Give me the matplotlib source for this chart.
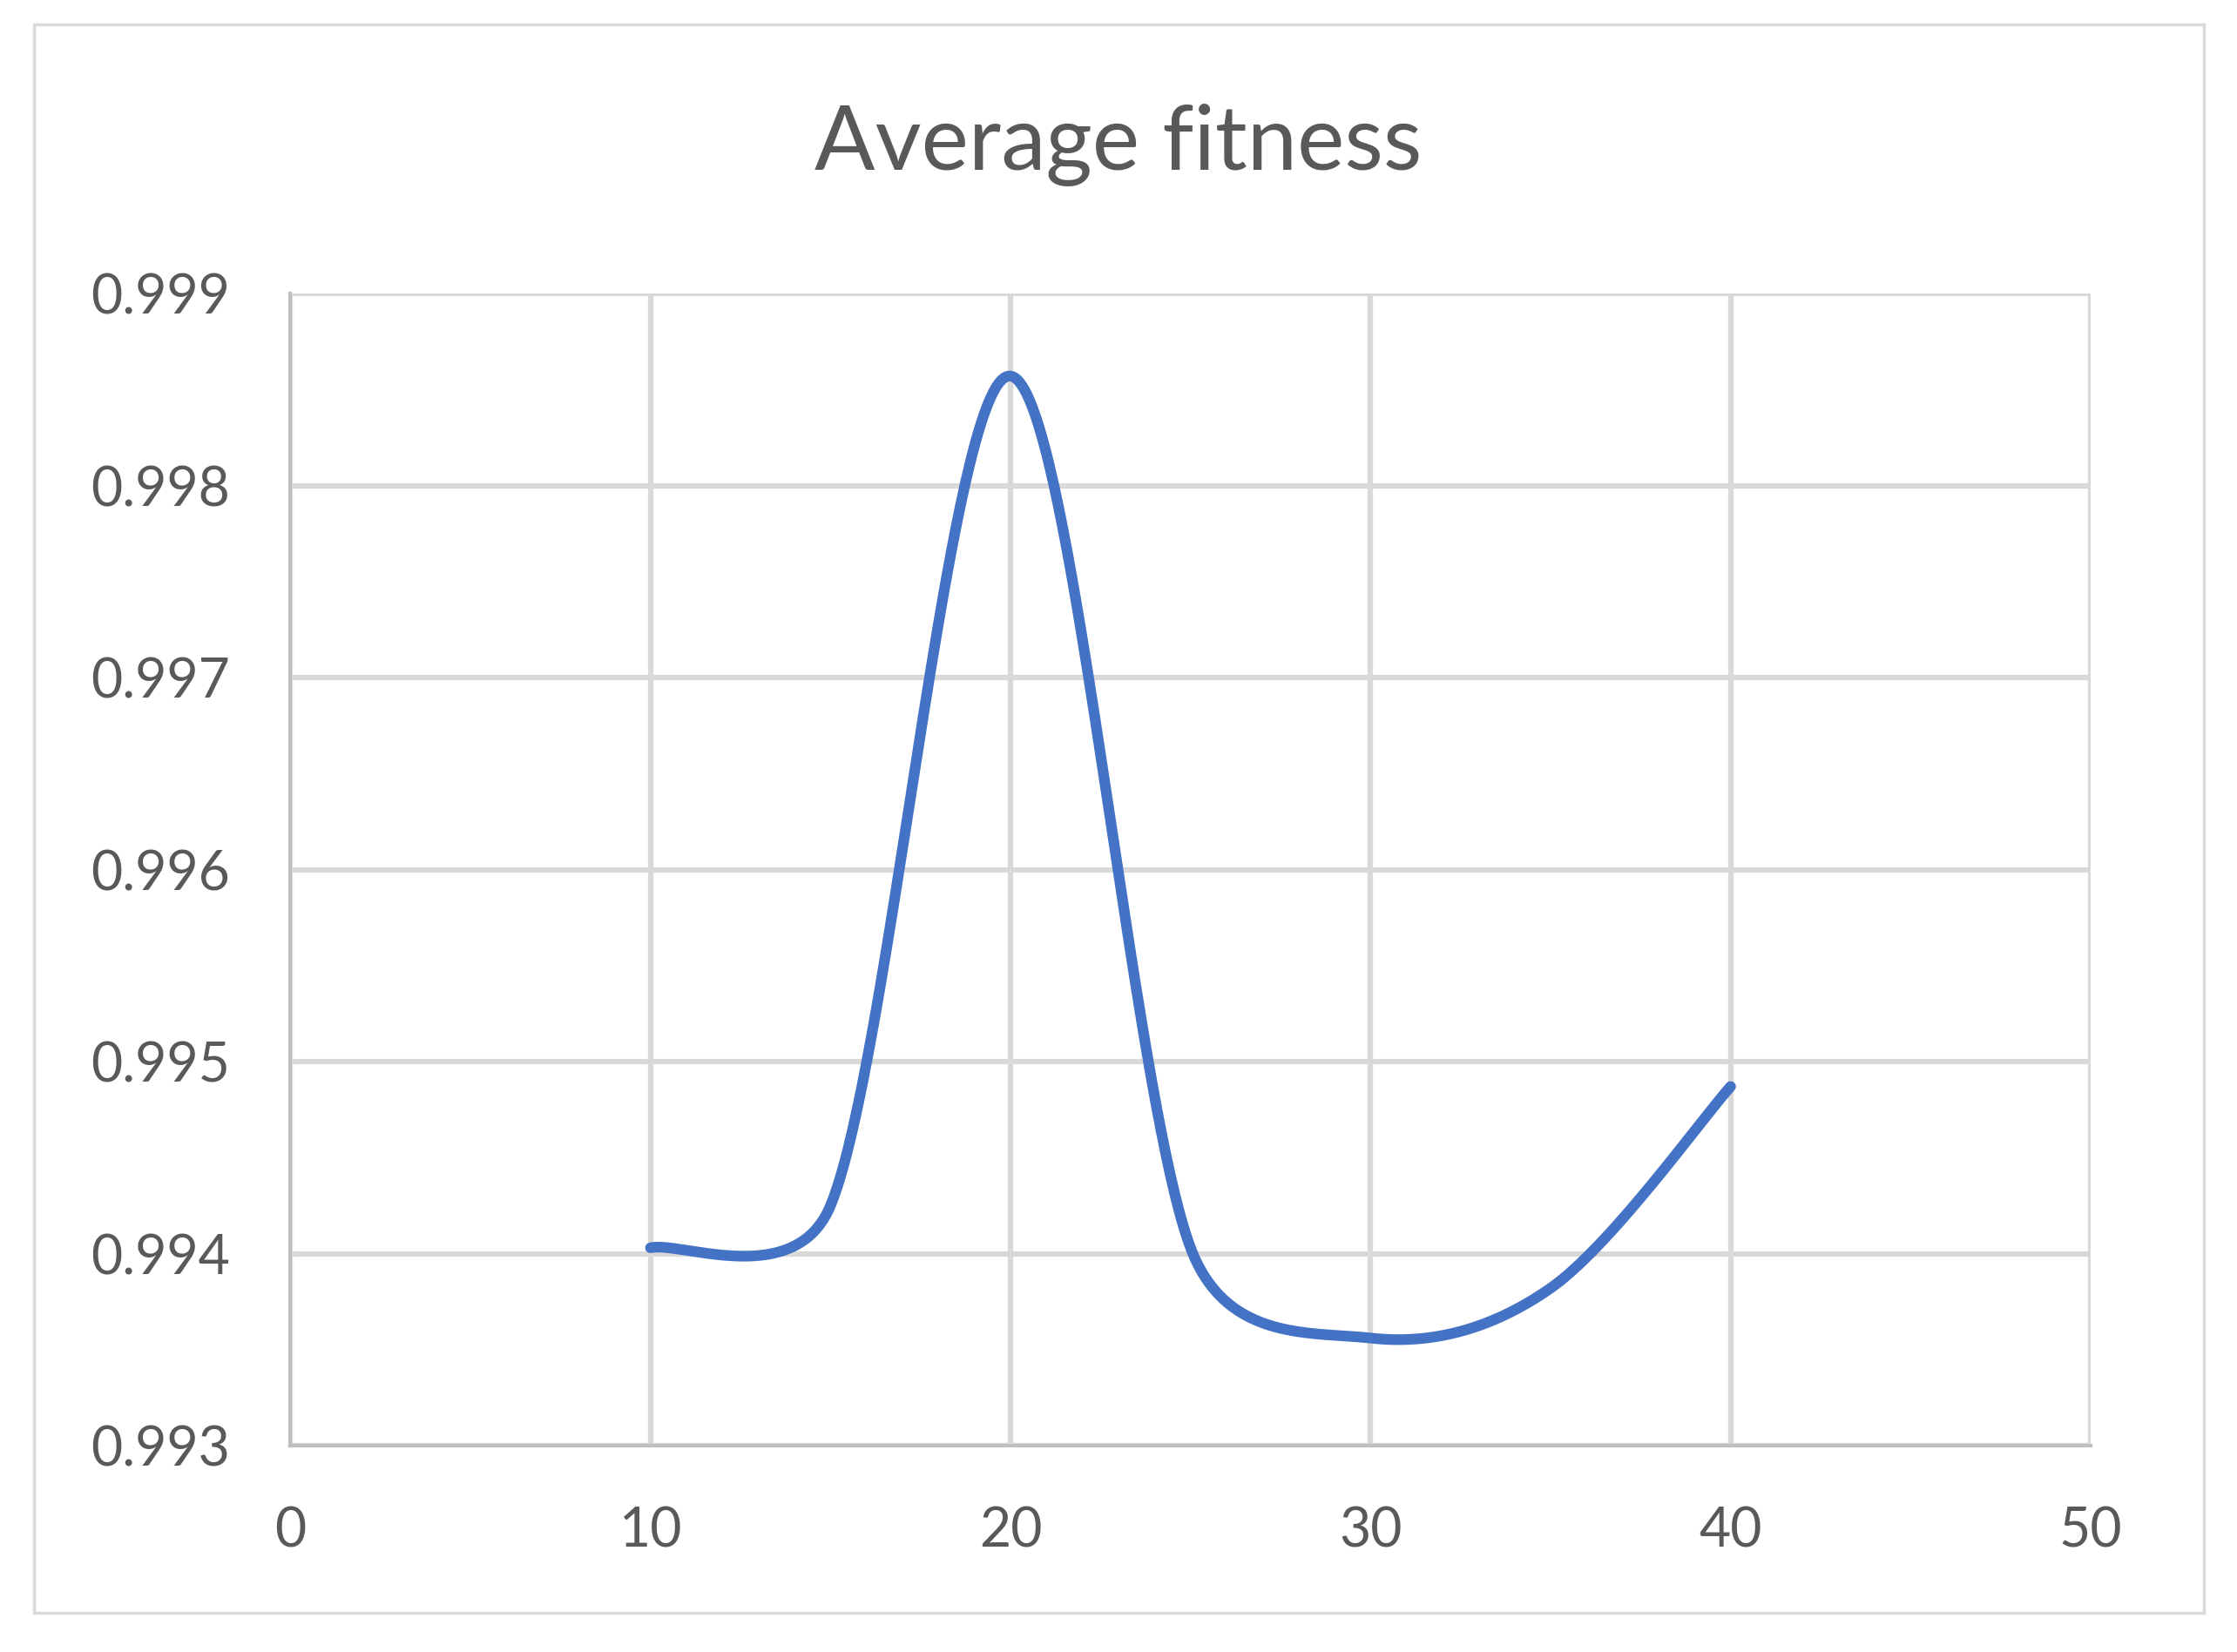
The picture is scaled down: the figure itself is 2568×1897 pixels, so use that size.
import matplotlib.pyplot as plt
import matplotlib.patches as patches
import numpy as np

plt.rcParams['font.family'] = ['Lato', 'DejaVu Sans']

generation = [10, 15, 20, 25, 30, 35, 40]
avg_fitness = [0.99403, 0.99425, 0.99857, 0.99403, 0.99356, 0.99382, 0.99487]

x_ticks = [0, 10, 20, 30, 40, 50]
y_ticks = [0.993, 0.994, 0.995, 0.996, 0.997, 0.998, 0.999]


def smooth_curve(ax, xs, ys, t=1 / 6, k=0.5, n=80):
    # spreadsheet style smoothed line, in screen space;
    # control arms are (next - prev) / 6 but never longer than k * segment length
    tr = ax.transData
    p = tr.transform(np.column_stack([xs, ys]))
    m = len(p)
    out = []
    for i in range(m - 1):
        b, c = p[i], p[i + 1]
        seg_len = np.hypot(*(c - b))
        a = p[i - 1] if i > 0 else b
        d = p[i + 2] if i + 2 < m else c
        arm1 = (c - a) * t
        arm2 = (d - b) * t
        l1, l2 = np.hypot(*arm1), np.hypot(*arm2)
        if l1 > k * seg_len:
            arm1 = arm1 * k * seg_len / l1
        if l2 > k * seg_len:
            arm2 = arm2 * k * seg_len / l2
        c1 = b + arm1
        c2 = c - arm2
        s = np.linspace(0, 1, n)[:, None]
        seg = (1 - s) ** 3 * b + 3 * (1 - s) ** 2 * s * c1 + 3 * (1 - s) * s ** 2 * c2 + s ** 3 * c
        out.append(seg if i == 0 else seg[1:])
    out = tr.inverted().transform(np.vstack(out))
    return out[:, 0], out[:, 1]


fig = plt.figure(figsize=(25.68, 18.97), dpi=100)

# outer chart border
fig.patches.append(patches.Rectangle((39 / 2568, 1 - 1852 / 1897), (2530 - 39) / 2568, (1852 - 28) / 1897,
                                     transform=fig.transFigure, fill=False, edgecolor='#D9D9D9', linewidth=2.5))

ax = fig.add_axes([333.4 / 2568, 1 - 1660 / 1897, (2400 - 333.4) / 2568, (1660 - 337) / 1897])
ax.set_xlim(0, 50)
ax.set_ylim(0.993, 0.999)

sx, sy = smooth_curve(ax, generation, avg_fitness)
ax.plot(sx, sy, color='#4472C4', linewidth=8.8, solid_capstyle='round', zorder=3)

ax.set_xticks(x_ticks)
ax.set_yticks(y_ticks)
ax.set_xticklabels([str(v) for v in x_ticks])
ax.set_yticklabels(['%.3f' % v for v in y_ticks])
ax.grid(True, color='#D9D9D9', linewidth=4.5)
ax.set_axisbelow(True)
ax.tick_params(length=0, labelsize=45, labelcolor='#595959')
ax.tick_params(axis='x', pad=50)
ax.tick_params(axis='y', pad=50)
for side in ['top', 'right']:
    ax.spines[side].set_visible(False)
for side in ['left', 'bottom']:
    ax.spines[side].set_color('#BFBFBF')
    ax.spines[side].set_linewidth(3)

fig.text(0.5, 1 - 166 / 1897, 'Average fitness', ha='center', va='center', fontsize=74, color='#595959')

fig.savefig('out.png', dpi=100)
